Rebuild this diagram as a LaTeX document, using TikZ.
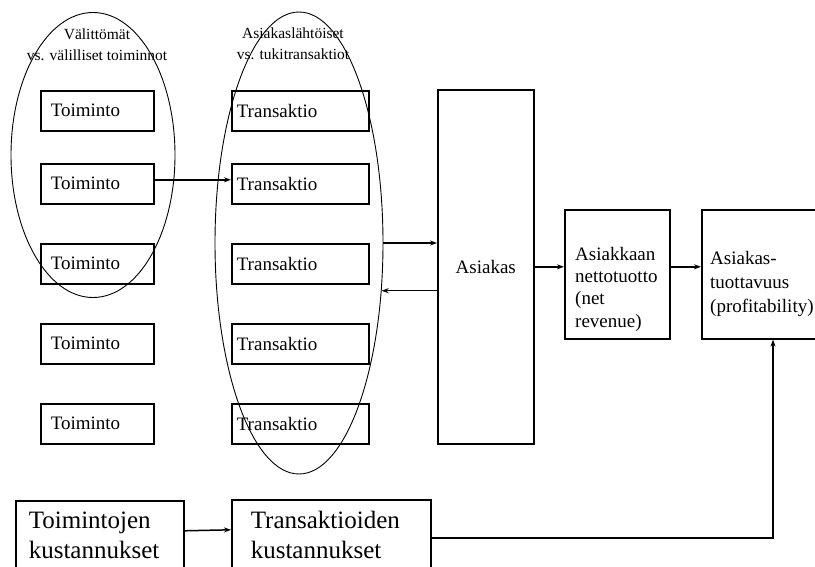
\documentclass[tikz,border=0pt]{standalone}
\usepackage{fontspec}
\setmainfont{Liberation Serif}
\usetikzlibrary{arrows.meta,shapes.geometric}

\begin{document}
\begin{tikzpicture}[x=1pt,y=-1pt]
    \useasboundingbox (0,0) rectangle (815,567);
    \tikzset{Box/.style = {draw, rectangle, line width=1.6pt, inner ysep=0pt, anchor=north west},
             TmBox/.style = {Box, minimum height=40pt, inner xsep=10pt, text width=93pt,
                             align=left, font=\fontsize{19}{22}\selectfont},
             TrBox/.style = {TmBox, inner xsep=5pt, text width=127pt},
             CostBox/.style = {Box, minimum height=70pt, align=left,
                               font=\fontsize{25}{30}\selectfont},
             Oval/.style = {draw, ellipse, line width=0.9pt, inner sep=0pt},
             Head/.style = {align=center, font=\fontsize{15.5}{21}\selectfont},
             Txt/.style = {anchor=north west, inner sep=0pt, align=left},
             Arrow/.style = {-{Stealth[length=7pt,width=5pt]}, line width=1.5pt}}

    \node[Oval, minimum width=164pt, minimum height=285pt] (tmell) at (93,155) {};
    \node[Oval, minimum width=168pt, minimum height=462pt] (trell) at (299,243) {};
    \node[Head] (tmhead) at (97,45) {Välittömät\\vs. välilliset toiminnot};
    \node[Head] (trhead) at (293,44) {Asiakaslähtöiset\\vs. tukitransaktiot};

    \node[TmBox] (tm1) at (40,90) {Toiminto};
    \node[TmBox] (tm2) at (40,163) {Toiminto};
    \node[TmBox] (tm3) at (40,243) {Toiminto};
    \node[TmBox] (tm4) at (40,323) {Toiminto};
    \node[TmBox] (tm5) at (40,403) {Toiminto};

    \node[TrBox] (tr1) at (231,90) {Transaktio};
    \node[TrBox] (tr2) at (231,163) {Transaktio};
    \node[TrBox] (tr3) at (231,243) {Transaktio};
    \node[TrBox] (tr4) at (231,323) {Transaktio};
    \node[TrBox] (tr5) at (231,403) {Transaktio};

    \node[Box, minimum width=96pt, minimum height=354pt, inner xsep=0pt,
          font=\fontsize{19}{22}\selectfont] (asiakas) at (437,89) {Asiakas};
    \node[Box, minimum width=105pt, minimum height=129pt] (rev) at (564,209) {};
    \node[Txt, font=\fontsize{19}{22.3}\selectfont] (revtxt) at (575,247)
        {Asiakkaan\\nettotuotto\\(net\\revenue)};
    \node[Box, minimum width=114pt, minimum height=129pt] (prof) at (701,209) {};
    \node[Txt, font=\fontsize{19}{24}\selectfont] (proftxt) at (710,251)
        {Asiakas-\\tuottavuus\\(profitability)};

    \node[CostBox, inner xsep=13pt, text width=142pt] (tmcost) at (15,500)
        {Toimintojen\\kustannukset};
    \node[CostBox, inner xsep=19pt, text width=161pt] (trcost) at (231,499)
        {Transaktioiden\\kustannukset};
    \coordinate (up) at (773,538);

    \draw[Arrow] ([yshift=4pt]tm2.east) -- ([yshift=4pt]tr2.west);
    \draw[Arrow] (trell.east) -- (trell.east -| asiakas.west);
    \draw[Arrow] (trell.-30 -| asiakas.west) -- (trell.-30);
    \draw[Arrow] (asiakas.east) -- (asiakas.east -| rev.west);
    \draw[Arrow] (rev.east |- asiakas.east) -- (prof.west |- asiakas.east);
    \draw[Arrow] ([yshift=5pt]tmcost.east) -- ([yshift=5pt]trcost.west);
    \draw[Arrow] ([yshift=-3pt]trcost.east) -| (up |- prof.south);
\end{tikzpicture}
\end{document}
